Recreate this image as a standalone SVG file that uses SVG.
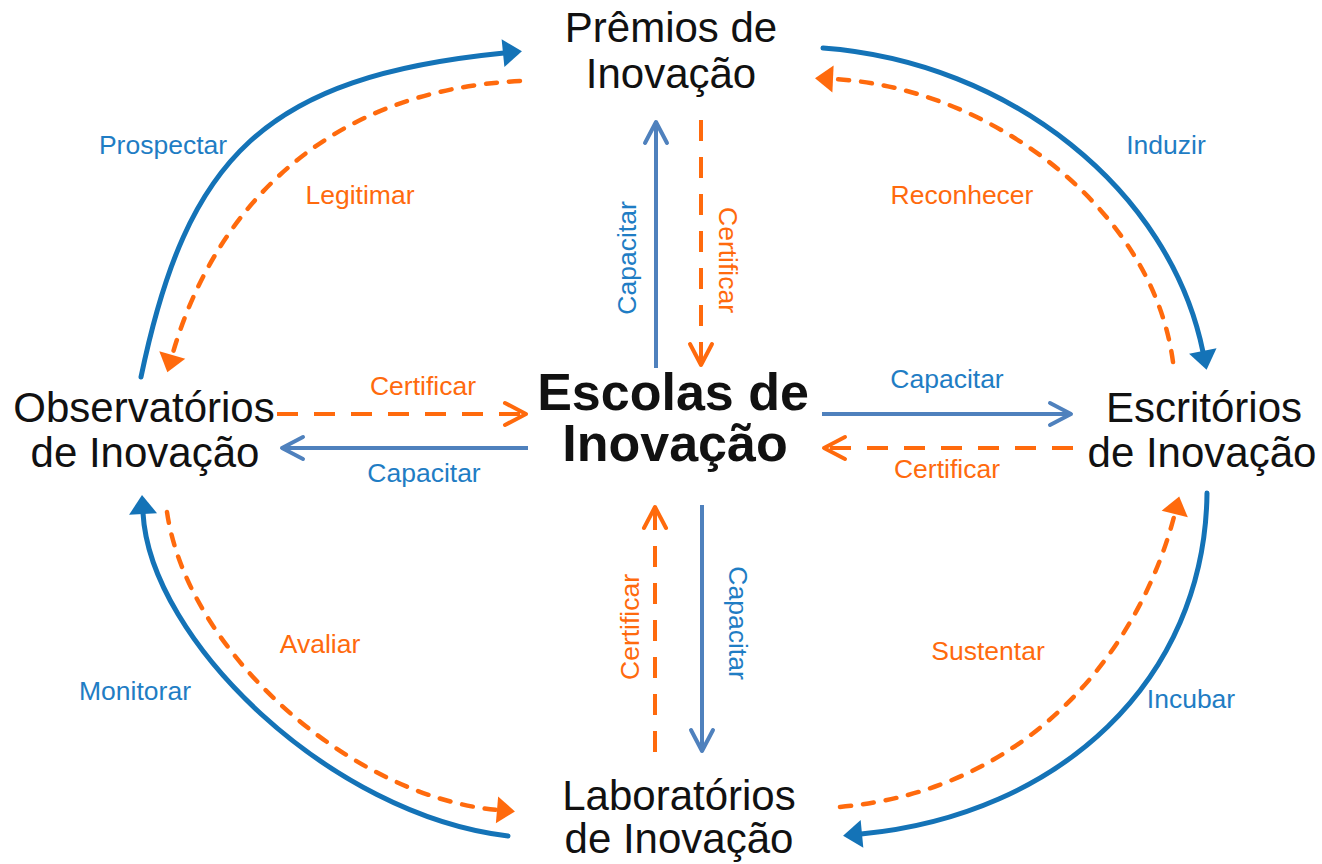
<svg xmlns="http://www.w3.org/2000/svg" width="1322" height="864" viewBox="0 0 1322 864">
  <style>
    text { font-family: "Liberation Sans", Arial, sans-serif; }
    .title { font-size: 42px; fill: #111111; text-anchor: middle; }
    .center { font-size: 52px; font-weight: bold; fill: #111111; text-anchor: middle; }
    .lb { font-size: 26.5px; fill: #1F7DC4; text-anchor: middle; }
    .lo { font-size: 26.5px; fill: #FF6A0D; text-anchor: middle; }
    .arcB { fill: none; stroke: #1473B7; stroke-width: 5; stroke-linecap: round; }
    .arcO { fill: none; stroke: #FF6A0D; stroke-width: 4.5; stroke-linecap: round; stroke-dasharray: 11 12; }
    .lineB { fill: none; stroke: #4F81BD; stroke-width: 4; }
    .lineO { fill: none; stroke: #FF6A0D; stroke-width: 4; stroke-dasharray: 21 16; }
  </style>
  <defs>
    <marker id="triB" markerUnits="userSpaceOnUse" markerWidth="19" markerHeight="28" refX="1" refY="14" orient="auto" overflow="visible">
      <path d="M0,0 L19,14 L0,28 z" fill="#1473B7"/>
    </marker>
    <marker id="triO" markerUnits="userSpaceOnUse" markerWidth="18" markerHeight="27" refX="1" refY="13.5" orient="auto" overflow="visible">
      <path d="M0,0 L18,13.5 L0,27 z" fill="#FF6A0D"/>
    </marker>
    <marker id="chevB" markerUnits="userSpaceOnUse" markerWidth="24" markerHeight="24" refX="22" refY="11" orient="auto" overflow="visible">
      <path d="M1,0 L22,11 L1,22" fill="none" stroke="#4F81BD" stroke-width="4" stroke-linecap="round" stroke-linejoin="round"/>
    </marker>
    <marker id="chevO" markerUnits="userSpaceOnUse" markerWidth="24" markerHeight="24" refX="22" refY="11" orient="auto" overflow="visible">
      <path d="M1,0 L22,11 L1,22" fill="none" stroke="#FF6A0D" stroke-width="4" stroke-linecap="round" stroke-linejoin="round" stroke-dasharray="none"/>
    </marker>
  </defs>

  <g id="connectors">
    <!-- outer arcs -->
    <path class="arcB" d="M141,377 C187,157 264,77 504,53" marker-end="url(#triB)"/>
    <path class="arcO" d="M520,81 C330,90 215,205 172,356" marker-end="url(#triO)"/>
    <path class="arcB" d="M823,48 C1010,62 1170,190 1203,352" marker-end="url(#triB)"/>
    <path class="arcO" d="M1173,362 C1152,205 985,86 832,79" marker-end="url(#triO)"/>
    <path class="arcB" d="M508,836 C330,815 150,640 143,513" marker-end="url(#triB)"/>
    <path class="arcO" d="M167,512 C188,655 355,798 498,810" marker-end="url(#triO)"/>
    <path class="arcB" d="M1207,493 C1205,680 1060,815 861,834" marker-end="url(#triB)"/>
    <path class="arcO" d="M840,807 C1030,790 1140,650 1175,513" marker-end="url(#triO)"/>

    <!-- straight arrows -->
    <path class="lineB" d="M656,368 L656,122" marker-end="url(#chevB)"/>
    <path class="lineO" d="M701,120 L701,365" marker-end="url(#chevO)"/>
    <path class="lineO" d="M277,414 L526,414" marker-end="url(#chevO)"/>
    <path class="lineB" d="M528,448 L282,448" marker-end="url(#chevB)"/>
    <path class="lineB" d="M822,414 L1071,414" marker-end="url(#chevB)"/>
    <path class="lineO" d="M1073,448 L824,448" marker-end="url(#chevO)"/>
    <path class="lineO" d="M655,752 L655,507" marker-end="url(#chevO)"/>
    <path class="lineB" d="M702,505 L702,751" marker-end="url(#chevB)"/>

    <!-- labels -->
    <text class="lb" x="163" y="154">Prospectar</text>
    <text class="lo" x="360" y="204">Legitimar</text>
    <text class="lb" x="1166" y="154">Induzir</text>
    <text class="lo" x="962" y="204">Reconhecer</text>
    <text class="lb" x="135" y="700">Monitorar</text>
    <text class="lo" x="320" y="653">Avaliar</text>
    <text class="lo" x="988" y="660">Sustentar</text>
    <text class="lb" x="1191" y="708">Incubar</text>
    <text class="lo" x="423" y="395">Certificar</text>
    <text class="lb" x="424" y="482">Capacitar</text>
    <text class="lb" x="947" y="388">Capacitar</text>
    <text class="lo" x="947" y="478">Certificar</text>
    <text class="lb" transform="translate(636,258) rotate(-90)">Capacitar</text>
    <text class="lo" transform="translate(719,260) rotate(90)">Certificar</text>
    <text class="lo" transform="translate(639,627) rotate(-90)">Certificar</text>
    <text class="lb" transform="translate(729,623) rotate(90)">Capacitar</text>
  </g>

  <g id="node-premios">
    <text class="title" x="671" y="42">Prêmios de</text>
    <text class="title" x="671" y="88">Inovação</text>
  </g>
  <g id="node-observatorios">
    <text class="title" x="144" y="422">Observatórios</text>
    <text class="title" x="145" y="467">de Inovação</text>
  </g>
  <g id="node-escritorios">
    <text class="title" x="1204" y="422">Escritórios</text>
    <text class="title" x="1202" y="467">de Inovação</text>
  </g>
  <g id="node-laboratorios">
    <text class="title" x="679" y="810">Laboratórios</text>
    <text class="title" x="679" y="853">de Inovação</text>
  </g>
  <g id="node-escolas">
    <text class="center" x="673" y="410">Escolas de</text>
    <text class="center" x="675" y="461">Inovação</text>
  </g>
</svg>
